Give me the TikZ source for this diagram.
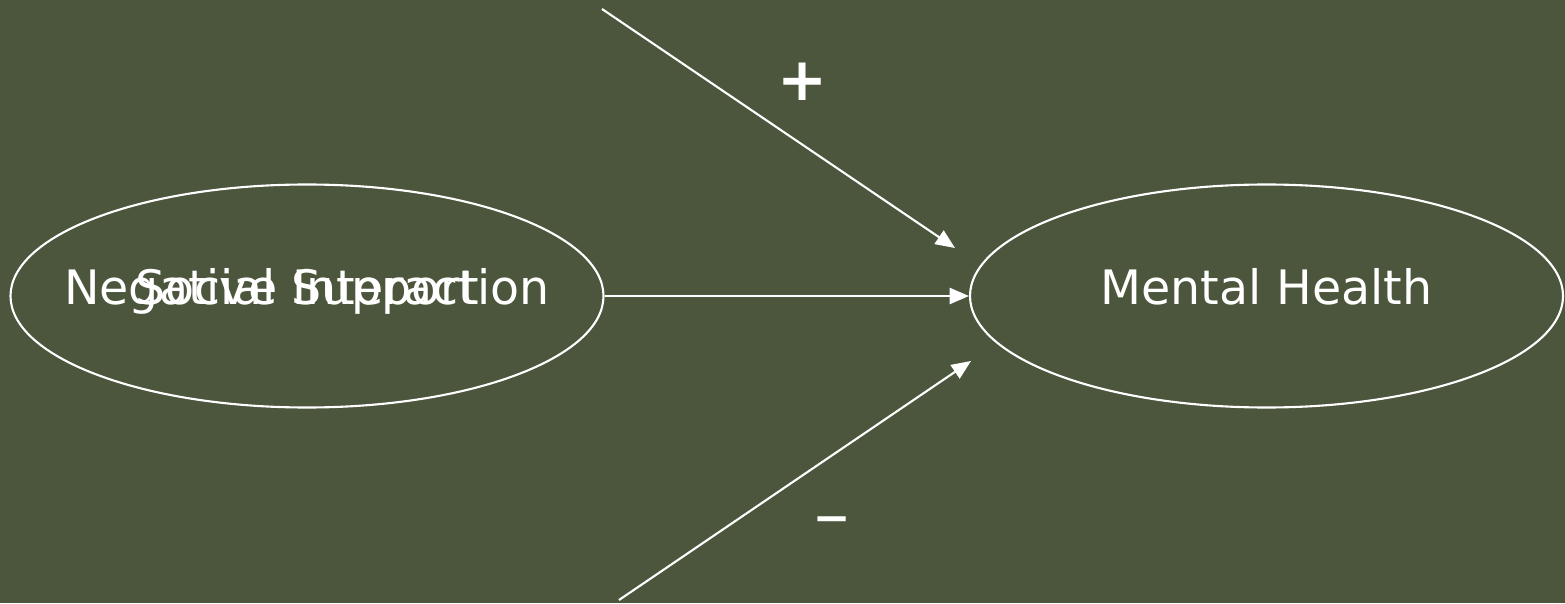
\documentclass[tikz,border=0pt]{standalone}
\usepackage{fontspec}
\setmainfont{DejaVu Sans}
\usepackage{tikz}
\usepackage{xcolor}
\usetikzlibrary{arrows.meta, positioning, shapes.geometric}
\definecolor{olivebg}{RGB}{75,86,60}
\definecolor{chalk}{RGB}{255,255,255}
\tikzset{
  construct/.style={ellipse, draw=chalk, line width=0.6pt, text=chalk,
                    minimum width=5.93cm, minimum height=2.23cm, inner sep=0pt,
                    font=\fontsize{13.5}{16}\selectfont,
                    text height=0.76em, text depth=0.3em},
  overtext/.style={text=chalk, inner sep=0pt,
                   font=\fontsize{13.5}{16}\selectfont,
                   text height=0.76em, text depth=0.3em},
  sign/.style={text=chalk, inner sep=0pt},
  arr/.style={-{Triangle[length=5.5pt, width=4.6pt]}, line width=0.6pt, color=chalk},
}

\begin{document}
\begin{tikzpicture}
  \fill[olivebg] (0,0) rectangle (15.65,6.03);
  \useasboundingbox (0,0) rectangle (15.65,6.03);

  \node[construct]                 (negint) at (3.07,3.07)   {};
  \node[overtext]                  (negtxt) at (negint.center) {Negative Interaction};
  \node[overtext]                  (socsup) at (negint.center) {Social Support};
  \node[construct]                 (mental) at (12.665,3.07) {Mental Health};

  \coordinate (topsrc) at (6.02,5.94);
  \coordinate (toptip) at (9.55,3.55);
  \coordinate (botsrc) at (6.19,0.03);
  \coordinate (bottip) at (9.71,2.42);

  \node[sign, font=\fontsize{17}{20}\selectfont\bfseries] (plus)  at (8.03,5.21) {+};
  \node[sign, font=\fontsize{20}{24}\selectfont] (minus) at (8.32,0.75) {–};

  \draw[arr] (negint) -- (mental);
  \draw[arr] (topsrc) -- (toptip);
  \draw[arr] (botsrc) -- (bottip);
\end{tikzpicture}
\end{document}
